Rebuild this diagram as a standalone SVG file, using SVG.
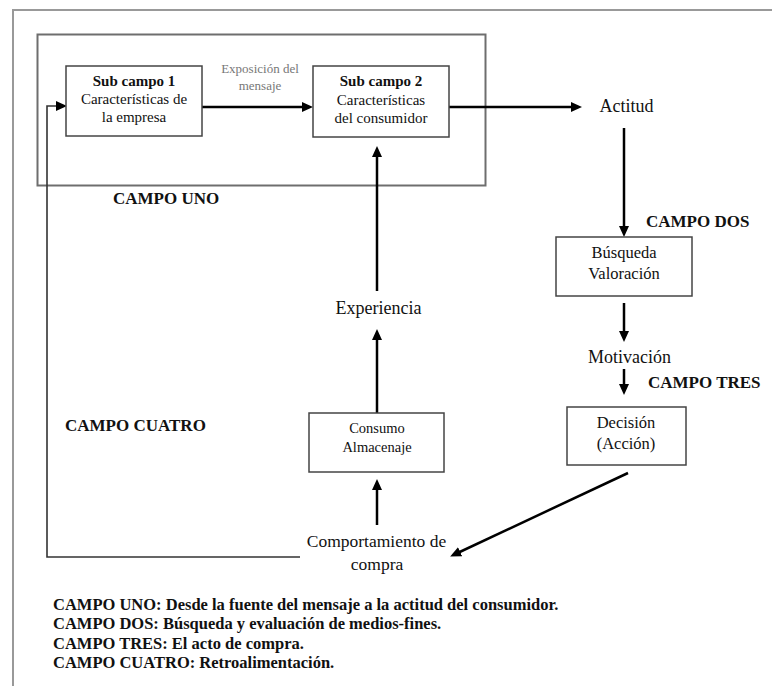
<svg xmlns="http://www.w3.org/2000/svg" width="772" height="686" viewBox="0 0 772 686" font-family="'Liberation Serif', 'Times New Roman', Tinos, 'DejaVu Serif', serif">
<style>
text{font-family:'Liberation Serif','Times New Roman',Tinos,'DejaVu Serif',serif;fill:#111;}
.c{text-anchor:middle;}
.b{font-weight:bold;}
.box{fill:#fff;stroke:#444;stroke-width:1.5;}
.ln{fill:none;stroke:#000;stroke-width:2.5;}
.fb{fill:none;stroke:#333;stroke-width:1.6;}
</style>
<defs>
<marker id="ah" markerUnits="userSpaceOnUse" markerWidth="11" markerHeight="10" refX="4" refY="5" orient="auto" viewBox="0 0 11 10">
<path d="M0,0 L11,5 L0,10 z" fill="#000"/>
</marker>
</defs>
<rect width="772" height="686" fill="#fff"/>
<g id="frame">
<path d="M13,686 V10 H772" fill="none" stroke="#999" stroke-width="2"/>
</g>
<g id="campo-uno">
<rect x="37.5" y="34.5" width="448" height="151" fill="none" stroke="#6e6e6e" stroke-width="2"/>
<text x="113" y="204" class="b" font-size="17">CAMPO UNO</text>
</g>
<g id="connectors">
<line class="ln" x1="202" y1="107" x2="306" y2="107" stroke-width="3" marker-end="url(#ah)"/>
<line class="ln" x1="449" y1="107" x2="575" y2="107" stroke-width="2" marker-end="url(#ah)"/>
<line class="ln" x1="624" y1="128" x2="624" y2="230" marker-end="url(#ah)"/>
<line class="ln" x1="624" y1="303" x2="624" y2="335" marker-end="url(#ah)"/>
<line class="ln" x1="624" y1="369" x2="624" y2="388" marker-end="url(#ah)"/>
<line class="ln" x1="628" y1="473" x2="456.5" y2="553.5" marker-end="url(#ah)"/>
<line class="ln" x1="377" y1="525" x2="377" y2="486" marker-end="url(#ah)"/>
<line class="ln" x1="377" y1="413" x2="377" y2="336" marker-end="url(#ah)"/>
<line class="ln" x1="377" y1="291" x2="377" y2="153" marker-end="url(#ah)"/>
<path class="fb" d="M300,557 H47 V106 H60" marker-end="url(#ah)"/>
</g>
<g id="sub-campo-1">
<rect class="box" x="66" y="66" width="136" height="70"/>
<text x="134" y="86" class="c b" font-size="15">Sub campo 1</text>
<text x="134" y="104" class="c" font-size="15">Características de</text>
<text x="134" y="122" class="c" font-size="15">la empresa</text>
</g>
<g id="exposicion">
<text x="260" y="73" class="c" font-size="13" style="fill:#777">Exposición del</text>
<text x="260" y="90" class="c" font-size="13" style="fill:#777">mensaje</text>
</g>
<g id="sub-campo-2">
<rect class="box" x="313" y="66" width="136" height="71"/>
<text x="381" y="86" class="c b" font-size="15">Sub campo 2</text>
<text x="381" y="105" class="c" font-size="15">Características</text>
<text x="381" y="123" class="c" font-size="15">del consumidor</text>
</g>
<g id="actitud">
<text x="626.5" y="112" class="c" font-size="18">Actitud</text>
</g>
<g id="campo-dos">
<text x="646" y="227" class="b" font-size="17">CAMPO DOS</text>
</g>
<g id="busqueda">
<rect class="box" x="556" y="237" width="136" height="59"/>
<text x="624" y="258" class="c" font-size="16.5">Búsqueda</text>
<text x="624" y="279" class="c" font-size="16.5">Valoración</text>
</g>
<g id="motivacion">
<text x="629.5" y="363" class="c" font-size="18">Motivación</text>
</g>
<g id="campo-tres">
<text x="648" y="388" class="b" font-size="17">CAMPO TRES</text>
</g>
<g id="decision">
<rect class="box" x="567" y="407" width="119" height="58"/>
<text x="626" y="428" class="c" font-size="16.5">Decisión</text>
<text x="626" y="449" class="c" font-size="16.5">(Acción)</text>
</g>
<g id="experiencia">
<text x="378.5" y="314" class="c" font-size="18">Experiencia</text>
</g>
<g id="consumo">
<rect class="box" x="309" y="413" width="135" height="59"/>
<text x="377" y="433" class="c" font-size="14.5">Consumo</text>
<text x="377" y="452" class="c" font-size="14.5">Almacenaje</text>
</g>
<g id="campo-cuatro">
<text x="65" y="431" class="b" font-size="17">CAMPO CUATRO</text>
</g>
<g id="comportamiento">
<text x="376.5" y="547" class="c" font-size="17.5">Comportamiento de</text>
<text x="377" y="570" class="c" font-size="17.5">compra</text>
</g>
<g id="legend">
<text x="53" y="610" class="b" font-size="16.5">CAMPO UNO: Desde la fuente del mensaje a la actitud del consumidor.</text>
<text x="53" y="629" class="b" font-size="16.5">CAMPO DOS: Búsqueda y evaluación de medios-fines.</text>
<text x="53" y="649" class="b" font-size="16.5">CAMPO TRES: El acto de compra.</text>
<text x="53" y="668" class="b" font-size="16.5">CAMPO CUATRO: Retroalimentación.</text>
</g>
</svg>
